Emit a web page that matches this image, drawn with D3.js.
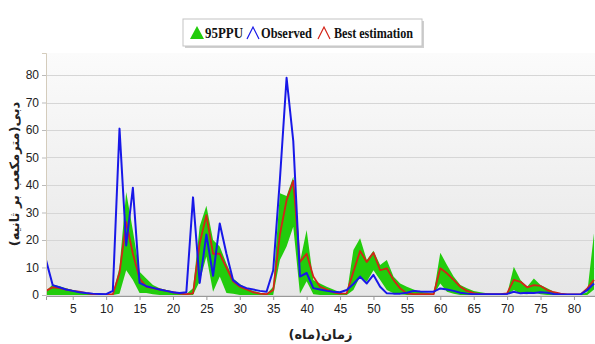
<!DOCTYPE html>
<html>
<head>
    <meta charset="utf-8">
    <title>95PPU / Observed / Best estimation</title>
    <style>
        body { margin: 0; background: #fff; }
        svg { display: block; }
        .tick text { font-family: 'Liberation Sans', Arial, sans-serif; font-size: 12px; fill: #222; }
        .legend text { font-family: 'Liberation Serif', 'Times New Roman', serif; font-weight: bold; font-size: 14px; fill: #111; }
        .title { font-family: 'DejaVu Sans', sans-serif; font-weight: bold; font-size: 13px; fill: #222; }
    </style>
</head>
<body>
<div id="chart"></div>
<script src="https://cdn.jsdelivr.net/npm/d3@7"></script>
<script type="text/javascript">

// month index (1..83)
var months = d3.range(1, 84);

// observed discharge (blue)
var observed = [12.7, 3.6, 2.8, 2.0, 1.5, 1.0, 0.7, 0.5, 0.4, 0.3,
    1.5, 60.5, 18, 39, 4.4, 3.2, 2.6, 2.0, 1.5, 1.0,
    0.7, 1.0, 35.5, 4.4, 22, 7, 26, 15, 5.4, 3.5,
    2.5, 2.0, 1.5, 1.2, 9, 42, 79, 56, 6.7, 8,
    2.5, 2.0, 1.5, 1.2, 1.0, 1.8, 4, 6.7, 4.2, 7.3,
    3, 0.6, 0.5, 0.5, 0.8, 1.5, 1.3, 1.2, 1.2, 2.4,
    2.0, 1.5, 0.8, 0.5, 0.3, 0.3, 0.3, 0.3, 0.3, 0.4,
    1.2, 0.6, 0.8, 0.7, 1.0, 0.8, 0.4, 0.2, 0.2, 0.2,
    0.2, 1.8, 4.2];

// best estimation (red)
var best = [1.5, 2.8, 2.5, 2.0, 1.5, 1.2, 0.7, 0.3, 0.2, 0.2,
    0.3, 8, 26.5, 15, 6, 3, 2.5, 2, 1.5, 1,
    0.5, 0.3, 0.6, 18.8, 29, 15, 15, 10, 5, 3,
    2, 1, 0.5, 0.3, 1.8, 22, 34.5, 41.5, 12, 15,
    6.7, 3, 2, 1, 0.5, 0.6, 8.5, 16, 12, 15.4,
    9, 9.7, 5.5, 2.4, 0.6, 0.3, 0.3, 0.3, 0.3, 9.7,
    7.9, 5.5, 3, 1.5, 0.7, 0.3, 0.3, 0.3, 0.3, 0.6,
    5.5, 4.8, 2.8, 3.6, 3.3, 1.8, 1, 0.5, 0.2, 0.2,
    0.2, 2.4, 5.5];

// 95PPU band, lower and upper bounds (green)
var ppuLow = [0, 0, 0, 0, 0, 0, 0, 0, 0, 0,
    0, 0.5, 9, 5.5, 0.7, 0.7, 0.3, 0, 0, 0,
    0, 0, 0, 5, 14, 1.2, 6.7, 0.7, 0.5, 0,
    0, 0, 0, 0, 0, 12.7, 17.6, 24.8, 0.5, 5,
    0.3, 0, 0, 0, 0, 0, 1.8, 6.7, 4.8, 9,
    5.5, 1.8, 0.6, 0.3, 0, 0, 0, 0, 0, 4.2,
    1.2, 0.5, 0, 0, 0, 0, 0, 0, 0, 0,
    1.8, 0.5, 0.3, 1, 0.3, 0, 0, 0, 0, 0,
    0, 0, 2];

var ppuHigh = [1.5, 3.8, 3.2, 2.5, 1.8, 1.2, 0.7, 0.3, 0.2, 0.2,
    0.5, 10, 37.5, 23.5, 8.5, 6, 3.6, 2.5, 1.8, 1.2,
    0.7, 0.4, 2.5, 25, 32.5, 20, 17.6, 11.5, 6, 4,
    2.5, 1.5, 0.8, 0.4, 3, 37, 36, 43, 12, 23.6,
    5.5, 4.2, 3, 2, 1, 0.4, 16.4, 20.6, 12.7, 16.1,
    10.9, 12.7, 6.7, 4.2, 3, 2, 1.2, 0.8, 0.5, 15.4,
    10.9, 6.7, 3.6, 2.5, 1.5, 1, 0.6, 0.3, 0.2, 0.3,
    10.3, 5.5, 3, 6, 3.6, 2.5, 1.2, 0.5, 0.2, 0.2,
    0.2, 1, 22.5];

var xTicks = [5, 10, 15, 20, 25, 30, 35, 40, 45, 50, 55, 60, 65, 70, 75, 80];
var yTicks = [0, 10, 20, 30, 40, 50, 60, 70, 80];

var legendLabels = ["95PPU", "Observed", "Best estimation"];
var colors = { band: "#22cc0c", obs: "#1818e8", best: "#d42418" };

var W = 595, H = 344;
var margin = {top: 53, right: 0, bottom: 49, left: 46};
var width  = W - margin.left - margin.right,
    height = H - margin.top - margin.bottom;

var x = d3.scaleLinear().domain([1, 83.15]).range([0, width]);
var y = d3.scaleLinear().domain([0, 88]).range([height, 0]);

var rows = months.map(function(m, i) {
    return {m: m, obs: observed[i], best: best[i], lo: ppuLow[i], hi: ppuHigh[i]};
});

var svg = d3.select("#chart")
    .append("svg")
    .attr("width", W)
    .attr("height", H);

var defs = svg.append("defs");
var grad = defs.append("linearGradient")
    .attr("id", "bg").attr("x1", 0).attr("y1", 0).attr("x2", 0).attr("y2", 1);
grad.append("stop").attr("offset", "0%").attr("stop-color", "#fbfbfb");
grad.append("stop").attr("offset", "100%").attr("stop-color", "#e6e6e6");

defs.append("clipPath").attr("id", "clip")
    .append("rect").attr("width", width).attr("height", height + 2).attr("y", -2);

var chart = svg.append("g")
    .attr("transform", "translate(" + margin.left + "," + margin.top + ")");

chart.append("rect")
    .attr("width", width)
    .attr("height", height)
    .attr("fill", "url(#bg)");

// horizontal grid
chart.append("g")
    .selectAll("line")
    .data(yTicks)
    .join("line")
    .attr("x1", 0).attr("x2", width)
    .attr("y1", function(d) { return Math.round(y(d)) + 0.5; })
    .attr("y2", function(d) { return Math.round(y(d)) + 0.5; })
    .attr("stroke", "#d6d6d6")
    .attr("stroke-width", 1);

var plot = chart.append("g").attr("clip-path", "url(#clip)");

var band = d3.area()
    .x(function(d) { return x(d.m); })
    .y0(function(d) { return y(d.lo); })
    .y1(function(d) { return y(d.hi); });

plot.append("path")
    .datum(rows)
    .attr("d", band)
    .attr("fill", colors.band);

var lineBest = d3.line()
    .x(function(d) { return x(d.m); })
    .y(function(d) { return y(d.best); });

var lineObs = d3.line()
    .x(function(d) { return x(d.m); })
    .y(function(d) { return y(d.obs); });

plot.append("path")
    .datum(rows)
    .attr("d", lineBest)
    .attr("fill", "none")
    .attr("stroke", colors.best)
    .attr("stroke-width", 1.8)
    .attr("stroke-linejoin", "round");

plot.append("path")
    .datum(rows)
    .attr("d", lineObs)
    .attr("fill", "none")
    .attr("stroke", colors.obs)
    .attr("stroke-width", 2)
    .attr("stroke-linejoin", "round");

// axes
var xAxis = chart.append("g")
    .attr("transform", "translate(0," + (height + 1) + ")")
    .call(d3.axisBottom(x).tickValues(xTicks).tickSize(4).tickPadding(4));
xAxis.select(".domain").attr("stroke", "#999");
xAxis.selectAll(".tick line").attr("stroke", "#999");

var yAxis = chart.append("g")
    .call(d3.axisLeft(y).tickValues(yTicks).tickSize(4).tickPadding(3));
yAxis.select(".domain").attr("stroke", "#d4ccbc");
yAxis.selectAll(".tick line").attr("stroke", "#bbb");

// axis titles
svg.append("text")
    .attr("class", "title")
    .attr("direction", "rtl")
    .attr("text-anchor", "middle")
    .attr("transform", "translate(19," + (margin.top + height / 2) + ") rotate(-90)")
    .text("دبی(مترمکعب بر ثانیه)");

svg.append("text")
    .attr("class", "title")
    .attr("direction", "rtl")
    .attr("text-anchor", "middle")
    .attr("x", margin.left + width / 2)
    .attr("y", 339)
    .text("زمان(ماه)");

// legend
var legend = svg.append("g").attr("class", "legend").attr("transform", "translate(183,19)");
legend.append("rect").attr("x", 2).attr("y", 2).attr("width", 239).attr("height", 27).attr("fill", "#cfcfcf");
legend.append("rect").attr("width", 239).attr("height", 27).attr("fill", "#fff").attr("stroke", "#c4c4c4");

var itemX = [7, 64, 135];
var textX = [22, 78, 151];
var textW = [38, 51, 79];
legend.append("path")
    .attr("d", "M" + itemX[0] + ",20 L" + (itemX[0] + 7) + ",7 L" + (itemX[0] + 14) + ",20 Z")
    .attr("fill", colors.band);
legend.append("path")
    .attr("d", "M" + itemX[1] + ",20 L" + (itemX[1] + 6) + ",8 L" + (itemX[1] + 12) + ",20")
    .attr("fill", "none").attr("stroke", colors.obs).attr("stroke-width", 1.2);
legend.append("path")
    .attr("d", "M" + itemX[2] + ",20 L" + (itemX[2] + 6) + ",8 L" + (itemX[2] + 12) + ",20")
    .attr("fill", "none").attr("stroke", colors.best).attr("stroke-width", 1.2);

legend.selectAll("text.lbl")
    .data(legendLabels)
    .join("text")
    .attr("class", "lbl")
    .attr("x", function(d, i) { return textX[i]; })
    .attr("y", 19)
    .attr("textLength", function(d, i) { return textW[i]; })
    .attr("lengthAdjust", "spacingAndGlyphs")
    .text(function(d) { return d; });

</script>
</body>
</html>
